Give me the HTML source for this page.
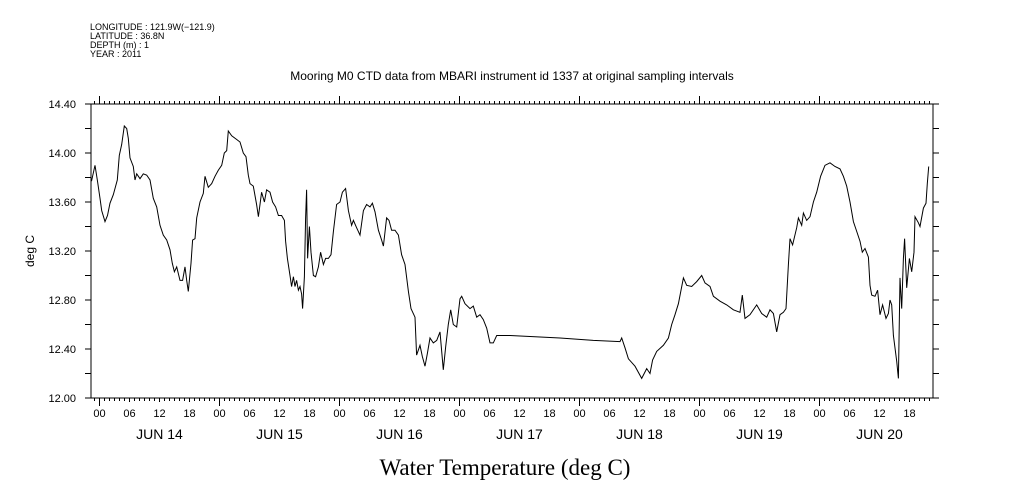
<!DOCTYPE html>
<html><head><meta charset="utf-8"><style>
body{margin:0;background:#fff;}
svg{display:block;font-family:"Liberation Sans",sans-serif;}
</style></head><body>
<svg id="chart" width="1009" height="504" viewBox="0 0 1009 504" xmlns="http://www.w3.org/2000/svg">
<g font-size="9" fill="#000">
<text x="90" y="30">LONGITUDE : 121.9W(−121.9)</text>
<text x="90" y="39">LATITUDE : 36.8N</text>
<text x="90" y="48">DEPTH (m) : 1</text>
<text x="90" y="57">YEAR : 2011</text>
</g>
<text x="512" y="80" font-size="12" text-anchor="middle">Mooring M0 CTD data from MBARI instrument id 1337 at original sampling intervals</text>
<text x="0" y="0" font-size="12" text-anchor="middle" transform="translate(34,251) rotate(-90)">deg C</text>
<text x="505" y="475" font-size="23" font-family="Liberation Serif, serif" text-anchor="middle">Water Temperature (deg C)</text>
<rect x="91" y="104" width="842" height="294" fill="none" stroke="#000" stroke-width="1"/>
<g id="axes"></g>
<path id="line" fill="none" stroke="#000" stroke-width="1"/>
</svg>
<script>
const hours=[-1.6,-0.9,-0.4,0.1,0.43,1.1,1.6,2.1,2.77,3.57,3.97,4.43,4.97,5.43,5.77,6.1,6.77,7.1,7.43,8.1,8.77,9.43,10.1,10.77,11.43,12.1,12.77,13.43,14.1,14.57,14.97,15.43,16.1,16.63,17.1,17.43,17.77,18.3,18.63,19.1,19.43,20.1,20.77,21.1,21.77,22.43,23.1,23.77,24.43,24.97,25.43,25.77,26.43,27.43,28.1,28.77,29.3,29.77,30.1,30.77,31.43,31.77,32.43,32.97,33.43,34.1,34.63,35.23,35.77,36.43,36.97,37.23,37.57,38.1,38.43,38.77,39.1,39.43,39.77,40.1,40.43,40.63,40.97,41.23,41.43,41.63,41.97,42.3,42.77,43.23,43.77,44.23,44.77,45.23,45.77,46.3,46.77,47.43,48.1,48.57,49.23,49.77,50.43,50.77,51.43,52.1,52.77,53.43,54.1,54.57,55.1,55.77,56.43,56.77,57.43,57.9,58.43,59.1,59.77,60.43,61.1,61.77,62.3,63.1,63.43,64.1,64.57,65.1,65.57,66.1,66.77,67.43,68.1,68.77,69.23,69.77,70.23,70.77,71.43,72.1,72.43,73.1,74.1,74.77,75.43,76.1,76.77,77.43,78.1,78.77,79.43,81.43,
82.1,92.1,98.77,104.1,104.43,105.1,105.77,107.1,108.43,109.43,110.1,110.63,111.43,112.77,113.77,114.43,115.1,115.77,116.77,117.43,118.43,119.43,120.43,121.1,122.1,122.77,124.1,125.43,126.77,128.1,128.57,129.1,130.1,131.43,132.43,133.43,134.1,134.77,135.43,136.1,136.77,137.3,137.77,138.1,138.63,139.43,139.77,140.43,140.77,141.43,142.1,142.77,143.43,144.23,145.1,146.1,147.1,148.1,148.77,149.43,150.1,150.77,151.43,152.1,152.57,153.1,153.77,154.1,154.43,155.1,155.63,156.1,156.63,157.3,157.77,158.1,158.43,158.77,159.43,159.77,160.1,160.43,160.77,161.03,161.43,161.97,162.43,162.9,163.1,163.77,164.1,164.77,165.3,165.57,165.83];
const temps=[13.77,13.90,13.77,13.63,13.53,13.44,13.49,13.59,13.66,13.78,13.98,14.07,14.22,14.20,14.12,13.96,13.89,13.78,13.83,13.79,13.83,13.82,13.78,13.63,13.56,13.41,13.33,13.29,13.21,13.10,13.03,13.07,12.96,12.96,13.07,12.96,12.87,13.10,13.29,13.30,13.47,13.60,13.67,13.81,13.72,13.75,13.81,13.86,13.90,14.00,14.02,14.18,14.14,14.11,14.09,14.00,13.97,13.82,13.75,13.73,13.58,13.48,13.68,13.60,13.70,13.68,13.60,13.56,13.49,13.49,13.45,13.28,13.14,13.00,12.91,12.99,12.91,12.96,12.88,12.91,12.85,12.73,12.99,13.47,13.70,13.14,13.40,13.19,13.00,12.99,13.07,13.19,13.09,13.14,13.14,13.17,13.36,13.58,13.60,13.68,13.71,13.53,13.41,13.45,13.39,13.33,13.53,13.58,13.56,13.59,13.52,13.37,13.29,13.24,13.47,13.45,13.37,13.37,13.33,13.17,13.09,12.87,12.73,12.66,12.35,12.43,12.34,12.26,12.36,12.49,12.45,12.47,12.54,12.23,12.42,12.60,12.72,12.60,12.58,12.81,12.83,12.77,12.73,12.75,12.66,12.68,12.64,12.57,12.45,12.45,12.51,12.51,
12.51,12.49,12.47,12.46,12.49,12.41,12.32,12.26,12.16,12.24,12.20,12.31,12.38,12.43,12.49,12.60,12.68,12.77,12.98,12.92,12.91,12.95,13.00,12.94,12.91,12.83,12.79,12.76,12.72,12.70,12.84,12.65,12.68,12.76,12.69,12.66,12.72,12.69,12.54,12.68,12.70,12.73,13.09,13.30,13.25,13.39,13.47,13.41,13.51,13.45,13.48,13.60,13.68,13.81,13.90,13.92,13.89,13.87,13.81,13.73,13.60,13.44,13.36,13.28,13.19,13.22,13.15,12.92,12.84,12.83,12.88,12.68,12.76,12.65,12.69,12.80,12.76,12.51,12.30,12.16,12.98,12.73,13.14,13.30,12.90,13.14,13.03,13.19,13.48,13.43,13.40,13.55,13.59,13.75,13.89];
const yTickLabels=["12.00","12.40","12.80","13.20","13.60","14.00","14.40"];
const dayLabels=["JUN 14","JUN 15","JUN 16","JUN 17","JUN 18","JUN 19","JUN 20"];
const hourLabels=["00","06","12","18"];

const NS="http://www.w3.org/2000/svg";
const L=91,R=933,T=104,B=398;
const xs=h=>99.5+5*h;
const ys=v=>T+(14.4-v)*(B-T)/2.4;
const ax=document.getElementById('axes');
function mk(tag,attrs){const e=document.createElementNS(NS,tag);for(const k in attrs)e.setAttribute(k,attrs[k]);return e;}
let tk="";
// x ticks hourly
for(let h=-1;h<=166;h++){const x=xs(h);if(x<L||x>R)continue;const maj=(h%24===0);const six=(h%6===0);
 tk+=`M${x},${T}V${T-(maj?8:3)}M${x},${B}V${B+(maj?8:(six?4:3))}`;}
// y ticks every 0.2
for(let i=0;i<=12;i++){const y=ys(12+i*0.2);tk+=`M${L},${y}H${L-6}M${R},${y}H${R+6}`;}
const tp=mk('path',{d:tk,stroke:'#000','stroke-width':1,fill:'none'});


ax.appendChild(tp);
yTickLabels.forEach(s=>{const t=mk('text',{x:76,y:ys(parseFloat(s))+4,'font-size':11,'text-anchor':'end'});t.textContent=s;
 
 
 ax.appendChild(t);});
dayLabels.forEach((d,i)=>{hourLabels.forEach((hl,j)=>{const t=mk('text',{x:xs(i*24+j*6),y:417,'font-size':11,'text-anchor':'middle'});t.textContent=hl;
 
 
 ax.appendChild(t);});
 const t=mk('text',{x:xs(i*24+12),y:439,'font-size':14,'text-anchor':'middle'});t.textContent=d;
 
 
 ax.appendChild(t);});
let d="";
hours.forEach((h,i)=>{d+=(i?"L":"M")+Math.max(L,xs(h)).toFixed(1)+","+ys(temps[i]).toFixed(1);});
document.getElementById('line').setAttribute('d',d);
</script>
</body></html>
